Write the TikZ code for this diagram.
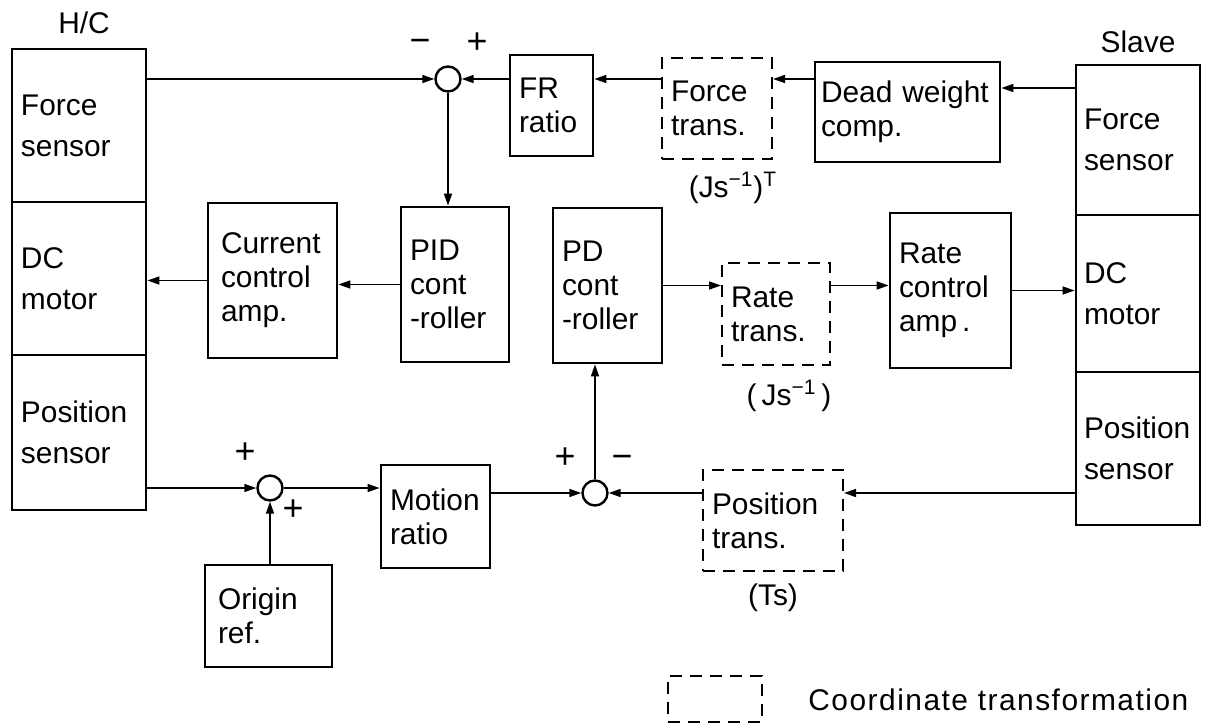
\documentclass[tikz,border=0pt]{standalone}
\usepackage{fontspec}
\setmainfont{Liberation Sans}
\usetikzlibrary{arrows.meta, positioning}

\begin{document}
\begin{tikzpicture}[x=0.5bp, y=-0.5bp,
    blk/.style={draw, line width=1.4bp, inner xsep=4.5bp, inner ysep=0pt, align=left,
                font=\fontsize{15}{17}\selectfont},
    sect/.style={blk, font=\fontsize{15}{20.5}\selectfont},
    trans/.style={blk, line width=1bp, dash pattern=on 6bp off 4bp},
    sum/.style={circle, draw, line width=1.2bp, minimum size=12.5bp, inner sep=0pt},
    sgn/.style={font=\fontsize{18}{18}\selectfont, inner sep=0pt, text height=0.6em, text depth=0pt},
    lbl/.style={font=\fontsize{15}{17}\selectfont, inner sep=0pt},
    arr/.style={-{Triangle[length=6bp,width=4bp]}, line width=0.8bp}]
    \useasboundingbox (0,0) rectangle (1213,727);

    % H/C column
    \node[lbl] (hc) at (84,23) {H/C};
    \node[sect, text width=58bp, minimum height=76.5bp] (hc_fs) at (79,125.5) {Force\\sensor};
    \node[sect, text width=58bp, minimum height=76.5bp] (hc_dc) at (79,278.5) {DC\\motor};
    \node[sect, text width=58bp, minimum height=77.5bp] (hc_ps) at (79,432.5) {Position\\sensor};

    % Slave column
    \node[lbl] (sl) at (1138,42) {Slave};
    \node[sect, inner xsep=4bp, text width=54bp, minimum height=75bp] (sl_fs) at (1138,140) {Force\\sensor};
    \node[sect, inner xsep=4bp, text width=54bp, minimum height=78.5bp] (sl_dc) at (1138,293.5) {DC\\motor};
    \node[sect, inner xsep=4bp, text width=54bp, minimum height=76.5bp] (sl_ps) at (1138,448.5) {Position\\sensor};

    % Force loop
    \node[blk, text width=32.5bp, minimum height=50.5bp] (fr) at (551.5,105.5) {FR\\ratio};
    \node[trans, text width=46bp, minimum height=50.5bp] (ft) at (717,108.5) {Force\\trans.};
    \node[blk, inner xsep=3bp, text width=86.5bp, minimum height=50bp] (dw) at (907.5,112) {Dead weight\\comp.};
    \node[lbl] (ftm) at (733,188) {(Js\textsuperscript{−1})\textsuperscript{T}};

    % Controllers and amplifiers
    \node[blk, inner xsep=6.5bp, text width=51.5bp, minimum height=77.5bp] (cur) at (272.5,280.5) {Current\\control\\amp.};
    \node[blk, text width=45bp, minimum height=77.5bp] (pid) at (455,284.5) {PID\\cont\\-roller};
    \node[blk, text width=45.5bp, minimum height=77.5bp] (pd) at (607.5,285.5) {PD\\cont\\-roller};
    \node[trans, text width=45bp, minimum height=51bp] (rtt) at (776,314) {Rate\\trans.};
    \node[blk, text width=51.5bp, minimum height=77.5bp] (rca) at (950.5,290.5) {Rate\\control\\amp\,.};
    \node[lbl] (rtm) at (789,396) {(\,Js\textsuperscript{−1}\,)};

    % Position loop
    \node[blk, text width=45.5bp, minimum height=51.5bp] (mr) at (435.5,516.5) {Motion\\ratio};
    \node[trans, text width=61bp, minimum height=50.5bp] (pt) at (773,520.5) {Position\\trans.};
    \node[blk, inner xsep=6.5bp, text width=50.5bp, minimum height=51bp] (orr) at (268.5,616) {Origin\\ref.};
    \node[lbl] (ptm) at (773,598) {(Ts)};

    % Summing points
    \node[sum] (s1) at (448,79) {};
    \node[sum] (s2) at (270,488) {};
    \node[sum] (s3) at (595,493) {};
    \node[sgn] (s1a) at (420,47) {−};
    \node[sgn] (s1b) at (477,48) {+};
    \node[sgn] (s2a) at (245,458) {+};
    \node[sgn] (s2b) at (293,515) {+};
    \node[sgn] (s3a) at (565,463) {+};
    \node[sgn] (s3b) at (622,463) {−};

    % Arrows
    \draw[arr] (hc_fs.east |- s1) -- (s1);
    \draw[arr] (fr.west |- s1) -- (s1);
    \draw[arr] (ft.west |- s1) -- (fr.east |- s1);
    \draw[arr] (dw.west |- s1) -- (ft.east |- s1);
    \draw[arr] ([yshift=12bp]dw.east -| sl_fs.west) -- ([yshift=12bp]dw.east);
    \draw[arr] (s1) -- (s1.south |- pid.north);
    \draw[arr] (pid.west) -- (cur.east |- pid.west);
    \draw[arr] (cur.west) -- (hc_dc.east |- cur.west);
    \draw[arr] (pd.east) -- (rtt.west |- pd.east);
    \draw[arr] (rtt.east |- pd.east) -- (rca.west |- pd.east);
    \draw[arr] (rca.east) -- (sl_dc.west |- rca.east);
    \draw[arr] (hc_ps.east |- s2) -- (s2);
    \draw[arr] (s2.south |- orr.north) -- (s2);
    \draw[arr] (s2) -- (mr.west |- s2);
    \draw[arr] (mr.east |- s3) -- (s3);
    \draw[arr] (pt.west |- s3) -- (s3);
    \draw[arr] (sl_ps.west |- s3) -- (pt.east |- s3);
    \draw[arr] (s3) -- (s3.north |- pd.south);

    % Legend
    \node[trans, minimum width=47bp, minimum height=23bp] (lg) at (715,699) {};
    \node[lbl, anchor=west, font=\fontsize{15}{17}\selectfont\addfontfeatures{LetterSpace=5}] (lgtxt) at (808,700) {Coordinate transformation};
\end{tikzpicture}
\end{document}
